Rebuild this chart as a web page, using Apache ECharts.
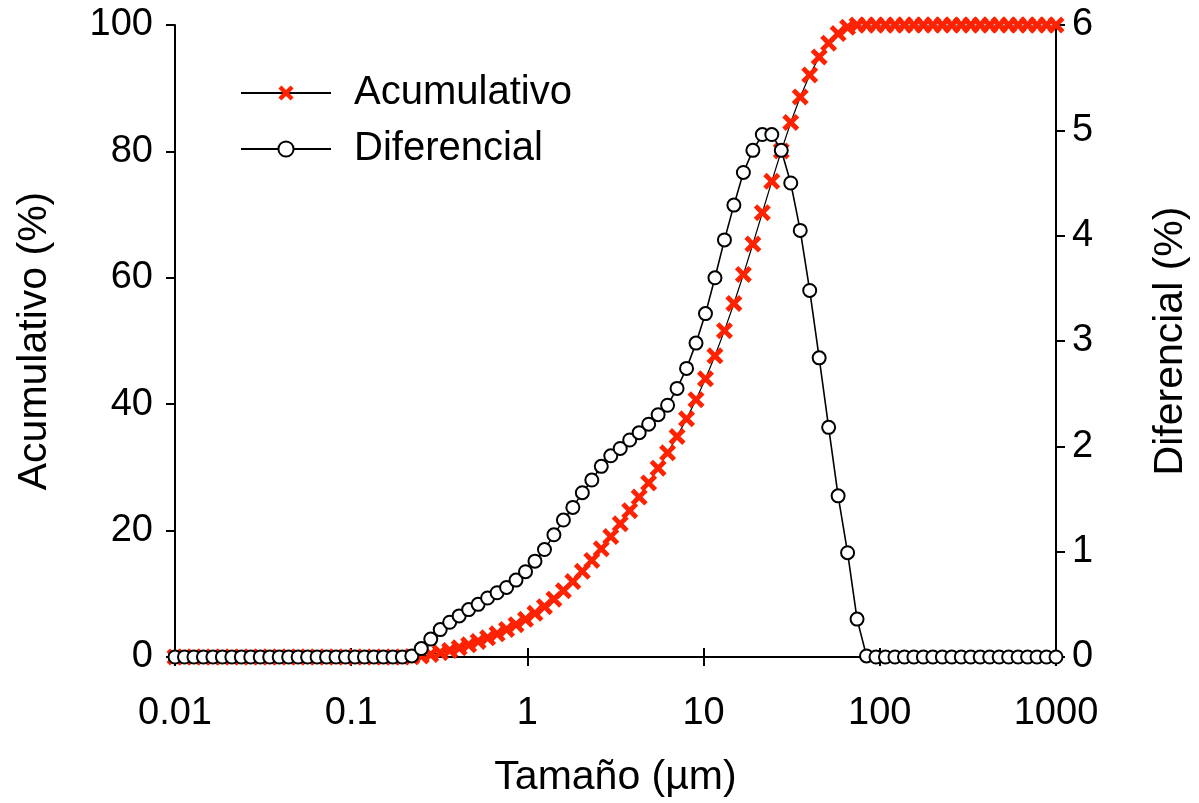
<!DOCTYPE html>
<html>
<head>
<meta charset="utf-8">
<script src="https://cdn.jsdelivr.net/npm/echarts@6/dist/echarts.min.js"></script>
<style>
html,body{margin:0;padding:0;background:#fff;}
#chart{width:1199px;height:803px;}
</style>
</head>
<body>
<div id="chart"></div>
<script>
// Particle size classes (µm)
const sizes = [
0.01,0.01132,0.01281,0.01450,0.01641,0.01857,0.02102,0.02379,0.02692,0.03047,
0.03448,0.03903,0.04417,0.04999,0.05657,0.06403,0.07247,0.08201,0.09282,0.1051,
0.1189,0.1346,0.1523,0.1724,0.1951,0.2208,0.2499,0.2828,0.3201,0.3622,
0.4100,0.4642,0.5253,0.5946,0.6729,0.7616,0.8620,0.9756,1.104,1.250,
1.414,1.601,1.811,2.050,2.321,2.626,2.973,3.364,3.808,4.309,
4.877,5.519,6.247,7.070,8.002,9.056,10.25,11.60,13.13,14.86,
16.82,19.04,21.54,24.38,27.60,31.23,35.35,40.01,45.28,51.25,
58.00,65.64,74.29,84.08,95.16,107.7,121.9,138.0,156.1,176.7,
200.0,226.4,256.2,290.0,328.2,371.4,420.4,475.8,538.4,609.4,
689.7,780.6,883.5,1000
];
// Differential (%)
const diferencial = [
0,0,0,0,0,0,0,0,0,0,
0,0,0,0,0,0,0,0,0,0,
0,0,0,0,0,0.01,0.08,0.17,0.26,0.33,
0.39,0.45,0.50,0.56,0.61,0.66,0.73,0.81,0.91,1.02,
1.16,1.30,1.42,1.56,1.68,1.81,1.91,1.98,2.06,2.13,
2.21,2.30,2.39,2.55,2.74,2.98,3.26,3.60,3.96,4.29,
4.60,4.81,4.96,4.96,4.81,4.50,4.05,3.48,2.84,2.18,
1.53,0.99,0.36,0.01,0,0,0,0,0,0,
0,0,0,0,0,0,0,0,0,0,
0,0,0,0
];
// Cumulative (%)
const acumulativo = [
0,0,0,0,0,0,0,0,0,0,
0,0,0,0,0,0,0,0,0,0,
0,0,0,0,0,0.03,0.16,0.38,0.68,1.04,
1.46,1.93,2.46,3.04,3.67,4.36,5.12,5.96,6.91,7.96,
9.15,10.48,11.94,13.55,15.28,17.12,19.06,21.07,23.15,25.30,
27.54,29.87,32.30,34.89,37.68,40.71,44.02,47.66,51.64,55.93,
60.53,65.34,70.30,75.26,80.07,84.57,88.62,92.10,94.94,97.12,
98.65,99.64,100,100,100,100,100,100,100,100,
100,100,100,100,100,100,100,100,100,100,
100,100,100,100
];
const xTickLabels = {'-2':'0.01','-1':'0.1','0':'1','1':'10','2':'100','3':'1000'};
const seriesNames = ['Acumulativo','Diferencial'];

const FONT = '"Liberation Sans", Arial, sans-serif';
const xSym = 'path://M0,2 L2,0 L5,3 L8,0 L10,2 L7,5 L10,8 L8,10 L5,7 L2,10 L0,8 L3,5 Z';

const chart = echarts.init(document.getElementById('chart'), null, {renderer:'canvas'});
const axisLine = {show:true, lineStyle:{color:'#000', width:2}};
const axisTick = {show:true, inside:false, length:9, lineStyle:{color:'#000', width:2}};
const opt = {
  animation:false,
  backgroundColor:'#fff',
  grid:{left:175, right:141, top:25, bottom:143, containLabel:false},
  legend:{
    left:240, top:73, padding:0, orient:'vertical', itemWidth:90, itemHeight:19, itemGap:16,
    textStyle:{fontFamily:FONT, fontSize:40, color:'#000', padding:[0,0,0,18]},
    data:seriesNames
  },
  xAxis:[
    {type:'log', logBase:10, min:0.01, max:1000, position:'bottom',
     name:'Tamaño (µm)', nameLocation:'middle', nameGap:100,
     nameTextStyle:{fontFamily:FONT, fontSize:41, color:'#000'},
     axisLine, axisTick, splitLine:{show:false}, minorTick:{show:false},
     axisLabel:{margin:38, fontFamily:FONT, fontSize:38, color:'#000',
       formatter:v=>xTickLabels[String(Math.round(Math.log10(v)))] || ''}},
    {type:'log', logBase:10, min:0.01, max:1000, position:'top',
     axisLine, axisTick, splitLine:{show:false}, axisLabel:{show:false}}
  ],
  yAxis:[
    {type:'value', min:0, max:100, interval:20, position:'left',
     name:'Acumulativo (%)', nameLocation:'middle', nameGap:120, nameRotate:90,
     nameTextStyle:{fontFamily:FONT, fontSize:41, color:'#000'},
     axisLine, axisTick, splitLine:{show:false},
     axisLabel:{margin:22, fontFamily:FONT, fontSize:38, color:'#000'}},
    {type:'value', min:0, max:6, interval:1, position:'right',
     name:'Diferencial (%)', nameLocation:'middle', nameGap:94, nameRotate:90,
     nameTextStyle:{fontFamily:FONT, fontSize:41, color:'#000'},
     axisLine, axisTick, splitLine:{show:false},
     axisLabel:{margin:16, fontFamily:FONT, fontSize:38, color:'#000'}}
  ],
  series:[
    {name:seriesNames[0], type:'line', xAxisIndex:0, yAxisIndex:0,
     data:sizes.map((s,i)=>[s, acumulativo[i]]),
     symbol:xSym, symbolSize:17, showAllSymbol:true,
     itemStyle:{color:'#ff2200'},
     lineStyle:{color:'#000', width:1.2}, z:2},
    {name:seriesNames[1], type:'line', xAxisIndex:0, yAxisIndex:1,
     data:sizes.map((s,i)=>[s, diferencial[i]]),
     symbol:'circle', symbolSize:13, showAllSymbol:true,
     itemStyle:{color:'#fff', borderColor:'#000', borderWidth:2},
     lineStyle:{color:'#000', width:1.6}, z:3}
  ]
};
chart.setOption(opt);
</script>
</body>
</html>
